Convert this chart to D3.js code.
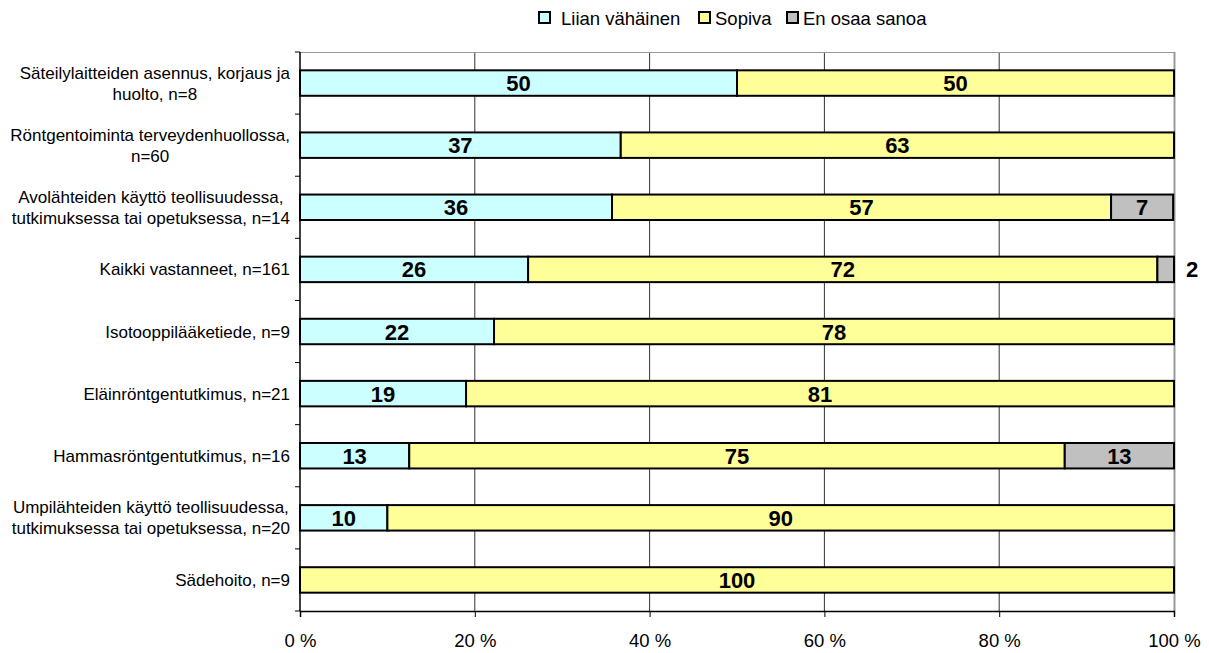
<!DOCTYPE html>
<html><head><meta charset="utf-8">
<script src="https://cdn.jsdelivr.net/npm/d3@7"></script>
<style>body{margin:0;background:#fff;font-family:Arial,"Liberation Sans",sans-serif}</style>
</head><body><svg id="c" width="1209" height="653" font-family="Arial, 'Liberation Sans', sans-serif"></svg>
<script>
const categories = [
  ["Säteilylaitteiden asennus, korjaus ja", "huolto, n=8"],
  ["Röntgentoiminta terveydenhuollossa,", "n=60"],
  ["Avolähteiden käyttö teollisuudessa,", "tutkimuksessa tai opetuksessa, n=14"],
  ["Kaikki vastanneet, n=161"],
  ["Isotooppilääketiede, n=9"],
  ["Eläinröntgentutkimus, n=21"],
  ["Hammasröntgentutkimus, n=16"],
  ["Umpilähteiden käyttö teollisuudessa,", "tutkimuksessa tai opetuksessa, n=20"],
  ["Sädehoito, n=9"]
];
const seriesNames = ["Liian vähäinen", "Sopiva", "En osaa sanoa"];
const liian = [50, 36.7, 35.7, 26.1, 22.2, 19.0, 12.5, 10, 0];
const sopiva = [50, 63.3, 57.1, 72.0, 77.8, 81.0, 75, 90, 100];
const eos = [0, 0, 7.1, 1.9, 0, 0, 12.5, 0, 0];
const xTicks = [0, 20, 40, 60, 80, 100];
const colors = ["#CCFFFF", "#FFFF99", "#C0C0C0"];

const svg = d3.select("#c");
const L = 300, R = 1174, T = 52, B = 611;
const x = d3.scaleLinear().domain([0, 100]).range([L, R]);
const y = d3.scaleBand().domain(d3.range(categories.length)).range([T, B]).paddingInner(0.59).paddingOuter(0.295);

// gridlines
svg.append("g").selectAll("line").data(xTicks.slice(1, 5)).join("line")
  .attr("x1", d => x(d)).attr("x2", d => x(d)).attr("y1", T).attr("y2", B)
  .attr("stroke", "#333").attr("stroke-width", 1);
// top and right border
svg.append("line").attr("x1", L).attr("x2", R).attr("y1", T + 0.5).attr("y2", T + 0.5).attr("stroke", "#999");
svg.append("line").attr("x1", R + 0.5).attr("x2", R + 0.5).attr("y1", T).attr("y2", B).attr("stroke", "#999").attr("stroke-width", 2);

const data = categories.map((c, i) => ({ i, vals: [liian[i], sopiva[i], eos[i]] }));
const stackData = data.map(d => { let acc = 0; return d.vals.map((v, k) => { const s = { i: d.i, k, v, x0: acc, x1: acc + v }; acc += v; return s; }); }).flat().filter(s => s.v > 0);

svg.append("g").selectAll("rect").data(stackData).join("rect")
  .attr("x", d => x(d.x0)).attr("width", d => x(d.x1) - x(d.x0))
  .attr("y", d => y(d.i)).attr("height", y.bandwidth())
  .attr("fill", d => colors[d.k]).attr("stroke", "#000").attr("stroke-width", 2);

svg.append("g").selectAll("text").data(stackData).join("text")
  .attr("x", d => d.v < 3 ? x(100) + 18 : x((d.x0 + d.x1) / 2))
  .attr("y", d => y(d.i) + y.bandwidth() / 2 + 8)
  .attr("text-anchor", "middle").attr("font-weight", "bold").attr("font-size", 22)
  .text(d => Math.round(d.v));

// y axis
const yAxis = svg.append("g");
yAxis.append("line").attr("x1", L).attr("x2", L).attr("y1", T).attr("y2", B).attr("stroke", "#000").attr("stroke-width", 1.5);
const step = (B - T) / categories.length;
yAxis.selectAll("line.t").data(d3.range(categories.length + 1)).join("line").attr("class", "t")
  .attr("x1", L - 5).attr("x2", L).attr("y1", d => T + d * step).attr("y2", d => T + d * step).attr("stroke", "#000");

// x axis
const xAxis = d3.axisBottom(x).tickValues(xTicks).tickFormat(d => d + " %").tickSize(6).tickPadding(14);
const xg = svg.append("g").attr("transform", `translate(0,${B})`).call(xAxis);
xg.attr("font-family", null).attr("font-size", null);
xg.select(".domain").attr("stroke", "#000").attr("stroke-width", 1.5);
xg.selectAll("text").attr("font-size", 18.5).attr("fill", "#000").attr("dy", null).attr("y", 36);
xg.selectAll(".tick line").attr("stroke", "#000");

// category labels
const catG = svg.append("g").attr("font-size", 17).attr("fill", "#000");
categories.forEach((lines, i) => {
  const cy = y(i) + y.bandwidth() / 2;
  const t = catG.append("text").attr("text-anchor", "middle");
  const tmp = t.append("tspan").text(lines[0]);
  let maxW = 0;
  lines.forEach(l => { tmp.text(l); maxW = Math.max(maxW, tmp.node().getComputedTextLength()); });
  tmp.remove();
  const cx = 290 - maxW / 2;
  const lh = 21;
  const startY = cy + 6 - (lines.length - 1) * lh / 2;
  lines.forEach((l, j) => t.append("tspan").attr("x", cx).attr("y", startY + j * lh).text(l));
});

// legend
const legX = [538, 698, 786];
const leg = svg.append("g");
seriesNames.forEach((n, k) => {
  leg.append("rect").attr("x", legX[k] + 1).attr("y", 12).attr("width", 11).attr("height", 11)
    .attr("fill", colors[k]).attr("stroke", "#000").attr("stroke-width", 2);
  leg.append("text").attr("x", legX[k] + (k === 0 ? 23 : 17)).attr("y", 24.5).attr("font-size", 18.5).text(n);
});
</script></body></html>
